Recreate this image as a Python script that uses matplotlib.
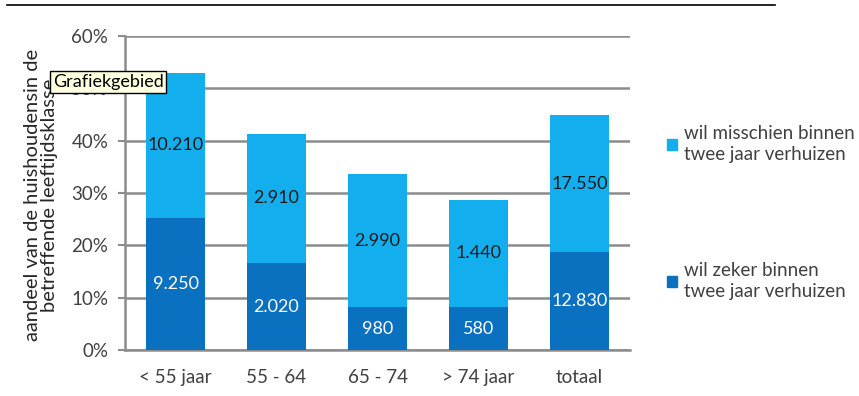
import matplotlib
matplotlib.use("Agg")
import matplotlib.pyplot as plt
from matplotlib.lines import Line2D
from matplotlib.patches import Patch
from matplotlib.ticker import PercentFormatter

plt.rcParams['font.family'] = ['Lato', 'DejaVu Sans']

# data
categories = ['< 55 jaar', '55 - 64', '65 - 74', '> 74 jaar', 'totaal']
zeker_pct = [25.2, 16.6, 8.2, 8.2, 18.7]          # dark blue segment (%)
misschien_pct = [27.8, 24.7, 25.4, 20.5, 26.2]    # light blue segment (%)
zeker_labels = ['9.250', '2.020', '980', '580', '12.830']
misschien_labels = ['10.210', '2.910', '2.990', '1.440', '17.550']
legend_labels = ['wil misschien binnen\ntwee jaar verhuizen',
                 'wil zeker binnen\ntwee jaar verhuizen']

light = '#12aeee'
dark = '#0a70c0'
grey = '#8c8c8c'
text_col = '#404040'

fig = plt.figure(figsize=(8.59, 3.96), dpi=100)
ax = fig.add_axes([125 / 859, 1 - 350 / 396, 505 / 859, 314 / 396])

x = range(len(categories))
ax.bar(x, zeker_pct, width=0.58, color=dark, zorder=3)
ax.bar(x, misschien_pct, width=0.58, bottom=zeker_pct, color=light, zorder=3)

for i in x:
    ax.text(i, zeker_pct[i] / 2, zeker_labels[i], ha='center', va='center',
            color='white', fontsize=13, zorder=4)
    ax.text(i, zeker_pct[i] + misschien_pct[i] / 2, misschien_labels[i],
            ha='center', va='center', color='#1a1a1a', fontsize=13, zorder=4)

ax.set_xlim(-0.5, 4.5)
ax.set_ylim(0, 60)
ax.set_yticks(range(0, 61, 10))
ax.yaxis.set_major_formatter(PercentFormatter(decimals=0))
ax.set_xticks(list(x))
ax.set_xticklabels(categories)
ax.grid(axis='y', color=grey, linewidth=1.8, zorder=1)
ax.tick_params(axis='y', length=5, width=1.5, color=grey, pad=7,
               labelsize=13.5, labelcolor=text_col)
ax.tick_params(axis='x', length=0, pad=14, labelsize=13.5, labelcolor=text_col)
for side in ['top', 'right']:
    ax.spines[side].set_visible(False)
for side in ['left', 'bottom']:
    ax.spines[side].set_color(grey)
    ax.spines[side].set_linewidth(1.8)

# legend drawn as two separate entries, far apart like the original
legend_pos = [144, 281]
for col, lab, ypix in zip([light, dark], legend_labels, legend_pos):
    leg = fig.legend(handles=[Patch(color=col)], labels=[lab],
                     loc='center left', bbox_to_anchor=(650 / 859, 1 - ypix / 396),
                     frameon=False, fontsize=13.5, handlelength=0.55,
                     handleheight=0.55, handletextpad=0.35, labelcolor=text_col)
    for t in leg.get_texts():
        t.set_linespacing(1.25)

fig.text(41 / 859, 1 - 195 / 396,
         'aandeel van de huishoudensin de\nbetreffende leeftijdsklasse',
         rotation=90, ha='center', va='center', fontsize=14.5,
         color='#262626', linespacing=1.0)

# tooltip box, sits over the 50% tick label as in the original
fig.text(53 / 859, 1 - 82 / 396, 'Grafiekgebied', ha='left', va='center',
         fontsize=13, color='black', zorder=10,
         bbox=dict(boxstyle='square,pad=0.15', facecolor='#ffffe1',
                   edgecolor='black', linewidth=1))

# black rule at top of page
fig.add_artist(Line2D([7 / 859, 775 / 859], [1 - 5 / 396, 1 - 5 / 396],
                      color='black', linewidth=1.2))

fig.savefig('out.png', dpi=100)
